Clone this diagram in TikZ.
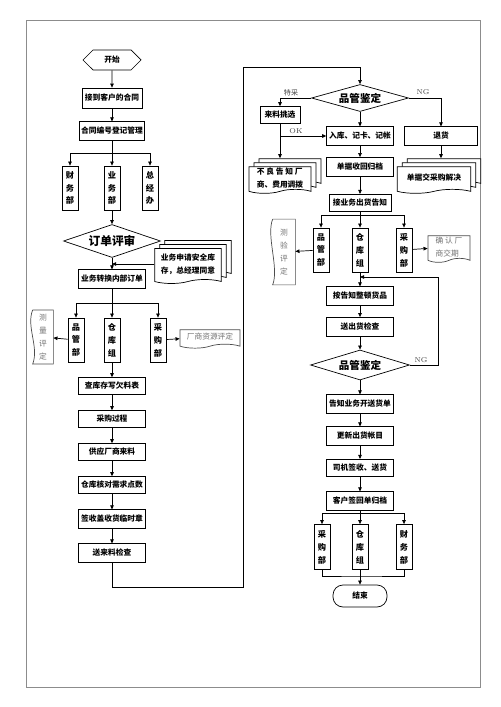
\documentclass[tikz,border=0pt]{standalone}
\usepackage{fontspec}
\newfontfamily\cjk{Noto Sans CJK SC}
\usetikzlibrary{arrows.meta,shapes.geometric,shapes.symbols,shadows,calc}

% frame of an upright note whose wavy edge is on the left
\newcommand\vdocedge[1]{%
  \draw[black!70] (#1.north west) -- (#1.north east) -- (#1.south east) -- (#1.south west)
    .. controls +(0.2cm,0.5cm) and +(-0.2cm,-0.5cm) .. (#1.north west);}

\begin{document}
\begin{tikzpicture}[x=0.03cm,y=-0.03cm,line width=0.6pt,
    box/.style={draw,minimum width=2cm,minimum height=0.55cm,inner sep=1pt,
      font=\cjk\bfseries\fontsize{6.6}{8}\selectfont},
    vbox/.style={draw,minimum width=0.48cm,minimum height=1.32cm,inner sep=0pt,align=center,
      font=\cjk\bfseries\fontsize{7}{11}\selectfont},
    check/.style={diamond,aspect=3,draw,minimum width=2.91cm,minimum height=0.85cm,inner sep=0pt,
      font=\cjk\bfseries\fontsize{9}{10}\selectfont},
    doc/.style={tape,tape bend top=none,tape bend height=0.12cm,draw,fill=white,align=center,
      inner sep=1pt,font=\cjk\bfseries\fontsize{6.6}{11}\selectfont},
    stack/.style={doc,double copy shadow={shadow xshift=0.15cm,shadow yshift=0.12cm}},
    note/.style={doc,draw=black!70,text=black!55,font=\cjk\fontsize{6.6}{11}\selectfont},
    vnote/.style={align=center,inner sep=0pt,text=black!55,font=\cjk\fontsize{6.6}{11}\selectfont},
    lbl/.style={font=\fontsize{6}{7}\selectfont,text=black!75},
    arr/.style={-{Triangle[length=3.5pt,width=3pt]}}]
  \useasboundingbox (0,0) rectangle (500,707);
  \draw[black!45,line width=0.8pt] (26,20) rectangle (480,687);

  % left column
  \node[signal,signal to=west and east,draw,minimum width=1.74cm,minimum height=0.6cm,inner sep=0pt,
    font=\cjk\bfseries\fontsize{6.6}{8}\selectfont] (start) at (112,60) {开始};
  \node[box,minimum width=1.8cm,minimum height=0.6cm] (c1) at (112,98) {接到客户的合同};
  \node[box,minimum width=1.95cm] (c2) at (112,131) {合同编号登记管理};
  \node[vbox] (cw) at (70,188) {财\\务\\部};
  \node[vbox] (yw) at (112,188) {业\\务\\部};
  \node[vbox] (zj) at (150,188) {总\\经\\办};
  \coordinate (b1) at (112,153);
  \node[check,minimum height=0.99cm,font=\cjk\bfseries\fontsize{10}{11}\selectfont] (rev) at (112,241) {订单评审};
  \node[stack,minimum width=2cm,minimum height=1.05cm] (docA) at (188,264) {业务申请安全库\\存，总经理同意};
  \node[box] (c3) at (112,279) {业务转换内部订单};
  \coordinate (b2) at (112,303);
  \node[vbox] (pg1) at (76,340) {品\\管\\部};
  \node[vbox] (ck1) at (112,340) {仓\\库\\组};
  \node[vbox] (cg1) at (158,340) {采\\购\\部};
  \node[vnote,minimum width=0.6cm,minimum height=1.6cm] (meas1) at (43,337) {测\\量\\评\\定};
  \vdocedge{meas1}
  \node[note,minimum width=1.8cm,minimum height=0.55cm] (res1) at (210,337) {厂商资源评定};
  \node[box,minimum height=0.5cm] (c4) at (112,386) {查库存写欠料表};
  \node[box,minimum height=0.5cm] (c5) at (112,419) {采购过程};
  \node[box,minimum height=0.5cm] (c6) at (112,452) {供应厂商来料};
  \node[box,minimum height=0.5cm] (c7) at (112,485) {仓库核对需求点数};
  \node[box,minimum height=0.55cm] (c8) at (112,519) {签收盖收货临时章};
  \node[box,minimum height=0.55cm] (c9) at (112,553) {送来料检查};

  % right column
  \node[check,minimum height=0.81cm] (qa1) at (360,98) {品管鉴定};
  \node[box,minimum width=1.2cm,minimum height=0.5cm] (pick) at (280,115) {来料挑选};
  \node[box] (in) at (360,136) {入库、记卡、记帐};
  \node[box,minimum width=2.2cm] (ret) at (441,136) {退货};
  \node[stack,align=left,minimum width=1.86cm,minimum height=0.8cm] (bad) at (280,178) {不 良 告 知 厂\\商、费用调拨};
  \node[box,minimum height=0.57cm] (file1) at (360,167) {单据收回归档};
  \node[stack,minimum width=2.2cm,minimum height=0.8cm] (docR) at (434,178) {单据交采购解决};
  \node[box,minimum width=1.86cm,minimum height=0.52cm] (notice) at (360,203) {接业务出货告知};
  \coordinate (b3) at (360,215);
  \node[vbox] (pg2) at (321,250) {品\\管\\部};
  \node[vbox] (ck2) at (360,250) {仓\\库\\组};
  \node[vbox] (cg2) at (404,250) {采\\购\\部};
  \node[vnote,minimum width=0.66cm,minimum height=1.95cm] (meas2) at (284,252) {测\\验\\评\\定};
  \vdocedge{meas2}
  \node[note,align=left,minimum width=1.26cm,minimum height=0.8cm] (conf) at (449,247) {确 认 厂\\商交期};
  \node[box] (arrange) at (360,296) {按告知整顿货品};
  \node[box,minimum height=0.57cm] (ship) at (360,327) {送出货检查};
  \node[check,minimum width=2.97cm,minimum height=0.9cm] (qa2) at (360,365) {品管鉴定};
  \node[box] (inform) at (360,404) {告知业务开送货单};
  \node[box] (update) at (360,436) {更新出货帐目};
  \node[box,minimum height=0.52cm] (driver) at (360,468) {司机签收、送货};
  \node[box] (sign) at (360,501) {客户签回单归档};
  \coordinate (b4) at (360,513);
  \node[vbox,minimum height=1.35cm] (cg3) at (322,547) {采\\购\\部};
  \node[vbox,minimum height=1.35cm] (ck3) at (360,547) {仓\\库\\组};
  \node[vbox,minimum height=1.35cm] (cw3) at (404,547) {财\\务\\部};
  \coordinate (m1) at (360,576);
  \node[draw,rounded corners=0.3cm,minimum width=1.62cm,minimum height=0.66cm,
    font=\cjk\bfseries\fontsize{6.6}{8}\selectfont] (end) at (360,596) {结束};

  % labels
  \node[lbl,font=\cjk\fontsize{6}{7}\selectfont] (tc) at (291,93) {特采};
  \node[lbl] (ng1) at (423,92) {NG};
  \node[lbl] (ok) at (296,131) {OK};
  \node[lbl] (ng2) at (421,360) {NG};

  % connectors, left
  \draw[arr] (start) -- (c1);
  \draw[arr] (c1) -- (c2);
  \draw[arr] (c2) -- (yw);
  \draw[arr] (b1) -| (cw.north);
  \draw[arr] (b1) -| (zj.north);
  \draw[arr] (yw) -- (rev);
  \draw[arr] (rev) -- (c3);
  \draw[arr] (docA.west) -- (docA.west -| rev.south);
  \draw[arr] (c3) -- (ck1);
  \draw[arr] (b2) -| (pg1.north);
  \draw[arr] (b2) -| (cg1.north);
  \draw[arr] (pg1) -- (meas1);
  \draw[arr] (cg1) -- (res1);
  \draw[arr] (ck1) -- (c4);
  \draw[arr] (c4) -- (c5);
  \draw[arr] (c5) -- (c6);
  \draw[arr] (c6) -- (c7);
  \draw[arr] (c7) -- (c8);
  \draw[arr] (c8) -- (c9);
  \draw[arr] (c9.south) |- (243,587) -- (243,67) -| (qa1.north);

  % connectors, right
  \coordinate (dB) at ($(bad.north)+(0cm,0.24cm)$);
  \coordinate (dR) at ($(docR.north)+(0cm,0.24cm)$);
  \draw[arr] (qa1.west) -| (pick.north);
  \draw[arr] (qa1.east) -| (ret.north);
  \draw[arr] (qa1) -- (in);
  \draw[arr] (pick.south) -- (dB);
  \draw[arr] (pick.south |- in.west) -- (in.west);
  \draw[arr] (ret.south) -- (ret.south |- dR);
  \draw[arr] (in) -- (file1);
  \draw[arr] (file1) -- (notice);
  \draw[arr] (notice) -- (ck2);
  \draw[arr] (b3) -| (pg2.north);
  \draw[arr] (b3) -| (cg2.north);
  \draw[arr] (pg2) -- (meas2);
  \draw[arr] (cg2) -- (conf);
  \draw[arr] (ck2) -- (arrange);
  \draw[arr] (arrange) -- (ship);
  \draw[arr] (ship) -- (qa2);
  \coordinate (ngr) at (438,277);
  \draw[arr] (qa2.east) -| (ngr) -- (ngr -| ck2.south);
  \draw[arr] (qa2) -- (inform);
  \draw[arr] (inform) -- (update);
  \draw[arr] (update) -- (driver);
  \draw[arr] (driver) -- (sign);
  \draw[arr] (sign) -- (ck3);
  \draw[arr] (b4) -| (cg3.north);
  \draw[arr] (b4) -| (cw3.north);
  \draw (cg3.south) |- (m1) -| (cw3.south);
  \draw (ck3.south) -- (m1);
  \draw[arr] (m1) -- (end);
\end{tikzpicture}
\end{document}
